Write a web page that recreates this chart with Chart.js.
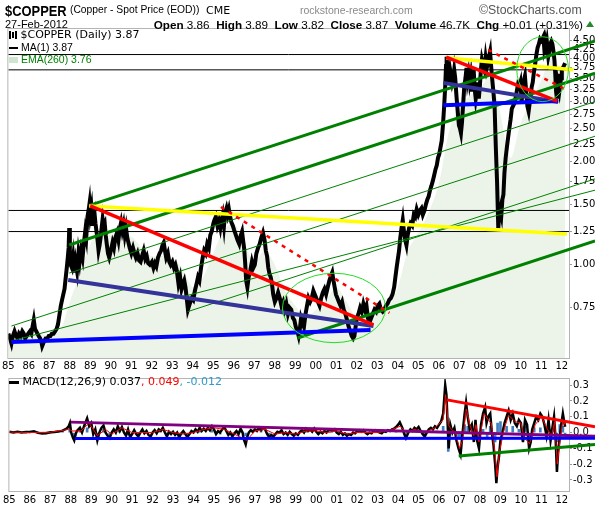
<!DOCTYPE html>
<html><head><meta charset="utf-8">
<script src="https://cdn.jsdelivr.net/npm/chart.js@4.4.1/dist/chart.umd.min.js"></script>
<style>
body{margin:0;width:595px;height:507px;background:#fff;position:relative;overflow:hidden;font-family:"Liberation Sans",Arial,sans-serif;}
.t{position:absolute;white-space:nowrap;line-height:1;}
#c1{position:absolute;left:0;top:0;}
#c2{position:absolute;left:0;top:372px;}
.ic{display:inline-block;vertical-align:middle;}
</style></head><body>
<canvas id="c1" width="595" height="372"></canvas>
<canvas id="c2" width="595" height="135"></canvas>
<div class="t" style="left:5px;top:2px;font:bold 15px 'Liberation Sans';transform:scaleX(0.86);transform-origin:left">$COPPER</div>
<div class="t" style="left:70px;top:4px;font:10.3px 'Liberation Sans'">(Copper - Spot Price (EOD))</div>
<div class="t" style="left:206px;top:4px;font:11px 'DejaVu Sans'">CME</div>
<div class="t" style="left:300px;top:4px;font:10.5px 'Liberation Sans';color:#8a8a8a">rockstone-research.com</div>
<div class="t" style="left:479px;top:3px;font:12.3px 'Liberation Sans';color:#555">©StockCharts.com</div>
<div class="t" style="left:5px;top:18px;font:11px 'Liberation Sans'">27-Feb-2012</div>
<div class="t" style="right:12px;top:18px;font:11.7px 'Liberation Sans'"><b>Open</b> 3.86 &nbsp;<b>High</b> 3.89 &nbsp;<b>Low</b> 3.82 &nbsp;<b>Close</b> 3.87 &nbsp;<b>Volume</b> 46.7K &nbsp;<b>Chg</b> +0.01 (+0.31%)</div>
<div class="t" style="left:586px;top:21px;width:0;height:0;border-left:4px solid transparent;border-right:4px solid transparent;border-bottom:6px solid #2a8a2a"></div>
<div class="t" style="left:9px;top:28px;font:11px 'DejaVu Sans'"><span class="ic" style="width:2px;height:8px;background:#000;margin-right:1px"></span><span class="ic" style="width:2px;height:6px;background:#000;margin-right:1px"></span><span class="ic" style="width:2px;height:8px;background:#000"></span> $COPPER (Daily) 3.87</div>
<div class="t" style="left:9px;top:41px;font:10.5px 'Liberation Sans'"><span class="ic" style="width:9px;height:2px;background:#000"></span> MA(1) 3.87</div>
<div class="t" style="left:9px;top:53px;font:10.5px 'Liberation Sans';color:#008000"><span class="ic" style="width:9px;height:6px;background:#cfe5cf"></span> EMA(260) 3.76</div>
<div class="t" style="left:9px;top:375px;font:11px 'DejaVu Sans'"><span class="ic" style="width:10px;height:3px;background:#000"></span> MACD(12,26,9) 0.037<span style="color:#ff0000">, 0.049</span><span style="color:#2e9ad0">, -0.012</span></div>
<script>
// ---------- DATA ----------
const yearLabels = ['85','86','87','88','89','90','91','92','93','94','95','96','97','98','99','00','01','02','03','04','05','06','07','08','09','10','11','12'];
const priceTickLabels = ['0.75','1.00','1.25','1.50','1.75','2.00','2.25','2.50','2.75','3.00','3.25','3.50','3.75','4.00','4.25','4.50'];
const macdTickLabels = ['-0.3','-0.2','-0.1','0.0','0.1','0.2','0.3'];

// daily close, sampled: [year, price]
const priceSeries = [
[1985.0,0.63],[1985.08,0.61],[1985.15,0.59],[1985.22,0.62],[1985.3,0.64],[1985.38,0.62],[1985.45,0.61],[1985.52,0.63],[1985.6,0.62],[1985.68,0.64],[1985.75,0.63],[1985.82,0.61],[1985.9,0.62],[1985.97,0.63],
[1986.05,0.64],[1986.12,0.63],[1986.18,0.66],[1986.24,0.69],[1986.3,0.65],[1986.36,0.64],[1986.42,0.63],[1986.48,0.62],[1986.55,0.61],[1986.6,0.60],[1986.65,0.58],[1986.7,0.59],[1986.75,0.60],[1986.82,0.61],[1986.9,0.61],[1986.97,0.62],
[1987.05,0.62],[1987.12,0.63],[1987.2,0.63],[1987.28,0.64],[1987.35,0.65],[1987.42,0.67],[1987.5,0.72],[1987.56,0.76],[1987.62,0.79],[1987.68,0.82],[1987.74,0.85],[1987.8,0.92],[1987.85,0.98],[1987.9,1.05],[1987.94,1.12],[1987.97,1.28],
[1988.0,1.08],[1988.04,1.00],[1988.1,0.98],[1988.16,1.05],[1988.22,0.95],[1988.28,1.02],[1988.35,0.96],[1988.42,1.08],[1988.48,1.02],[1988.55,1.10],[1988.62,1.05],[1988.68,1.15],[1988.75,1.25],[1988.8,1.20],[1988.86,1.38],[1988.92,1.45],[1988.96,1.51],
[1989.0,1.40],[1989.05,1.46],[1989.1,1.30],[1989.15,1.38],[1989.2,1.42],[1989.25,1.32],[1989.3,1.25],[1989.35,1.18],[1989.4,1.10],[1989.45,1.14],[1989.5,1.20],[1989.55,1.28],[1989.6,1.36],[1989.65,1.30],[1989.7,1.32],[1989.75,1.22],[1989.8,1.15],[1989.86,1.08],[1989.92,1.05],
[1990.0,1.10],[1990.08,1.16],[1990.15,1.12],[1990.22,1.20],[1990.3,1.24],[1990.37,1.18],[1990.44,1.28],[1990.5,1.33],[1990.56,1.26],[1990.62,1.31],[1990.68,1.22],[1990.74,1.28],[1990.8,1.20],[1990.86,1.16],[1990.92,1.12],
[1991.0,1.08],[1991.08,1.12],[1991.15,1.08],[1991.22,1.05],[1991.3,1.08],[1991.38,1.03],[1991.45,1.02],[1991.52,1.06],[1991.6,1.10],[1991.68,1.04],[1991.75,1.06],[1991.82,1.01],[1991.9,1.00],
[1992.0,1.02],[1992.08,0.98],[1992.15,1.01],[1992.22,0.99],[1992.3,1.05],[1992.38,1.08],[1992.45,1.10],[1992.52,1.14],[1992.58,1.16],[1992.64,1.10],[1992.7,1.05],[1992.78,1.08],[1992.85,1.02],[1992.92,1.00],
[1993.0,1.02],[1993.08,0.98],[1993.15,1.00],[1993.22,0.96],[1993.3,0.88],[1993.38,0.92],[1993.45,0.85],[1993.52,0.88],[1993.58,0.90],[1993.64,0.86],[1993.7,0.80],[1993.76,0.74],[1993.82,0.76],[1993.88,0.78],[1993.95,0.80],
[1994.02,0.79],[1994.1,0.84],[1994.18,0.88],[1994.25,0.92],[1994.32,0.90],[1994.4,0.98],[1994.48,1.05],[1994.55,1.10],[1994.62,1.08],[1994.7,1.15],[1994.78,1.12],[1994.85,1.22],[1994.92,1.25],
[1995.0,1.32],[1995.05,1.35],[1995.12,1.38],[1995.2,1.30],[1995.27,1.34],[1995.34,1.28],[1995.4,1.35],[1995.46,1.40],[1995.52,1.30],[1995.58,1.42],[1995.64,1.46],[1995.7,1.40],[1995.76,1.45],[1995.82,1.38],[1995.88,1.33],[1995.95,1.30],
[1996.02,1.26],[1996.1,1.22],[1996.18,1.18],[1996.26,1.15],[1996.34,1.22],[1996.4,1.25],[1996.45,1.18],[1996.5,1.12],[1996.55,1.02],[1996.6,0.90],[1996.66,0.86],[1996.72,0.92],[1996.8,0.96],[1996.88,1.02],[1996.95,0.98],
[1997.02,1.00],[1997.1,1.08],[1997.18,1.12],[1997.26,1.15],[1997.34,1.20],[1997.42,1.24],[1997.5,1.18],[1997.56,1.10],[1997.62,1.06],[1997.68,0.98],[1997.74,0.94],[1997.8,0.92],[1997.86,0.88],[1997.92,0.82],
[1998.0,0.78],[1998.08,0.80],[1998.16,0.83],[1998.24,0.80],[1998.32,0.76],[1998.4,0.78],[1998.48,0.74],[1998.56,0.77],[1998.64,0.72],[1998.72,0.75],[1998.8,0.74],[1998.88,0.70],[1998.95,0.69],
[1999.02,0.66],[1999.1,0.64],[1999.16,0.62],[1999.22,0.65],[1999.28,0.70],[1999.35,0.68],[1999.42,0.66],[1999.5,0.72],[1999.57,0.76],[1999.64,0.80],[1999.72,0.78],[1999.8,0.80],[1999.88,0.84],[1999.95,0.82],
[2000.02,0.80],[2000.1,0.78],[2000.18,0.76],[2000.26,0.80],[2000.34,0.83],[2000.42,0.85],[2000.5,0.82],[2000.58,0.86],[2000.66,0.90],[2000.74,0.93],[2000.8,0.95],[2000.86,0.90],[2000.92,0.86],[2000.98,0.82],
[2001.05,0.80],[2001.12,0.78],[2001.2,0.76],[2001.28,0.78],[2001.36,0.74],[2001.44,0.72],[2001.52,0.69],[2001.6,0.66],[2001.68,0.64],[2001.75,0.62],[2001.82,0.61],[2001.88,0.62],[2001.94,0.66],
[2002.0,0.70],[2002.08,0.72],[2002.16,0.75],[2002.24,0.73],[2002.32,0.77],[2002.4,0.74],[2002.47,0.76],[2002.54,0.70],[2002.62,0.68],[2002.7,0.70],[2002.78,0.72],[2002.86,0.74],[2002.94,0.73],
[2003.02,0.76],[2003.1,0.77],[2003.18,0.74],[2003.26,0.73],[2003.34,0.74],[2003.42,0.76],[2003.5,0.77],[2003.58,0.79],[2003.66,0.80],[2003.74,0.82],[2003.82,0.86],[2003.88,0.92],[2003.94,0.98],
[2004.0,1.04],[2004.06,1.10],[2004.12,1.20],[2004.18,1.28],[2004.24,1.35],[2004.3,1.25],[2004.36,1.18],[2004.42,1.14],[2004.48,1.22],[2004.55,1.28],[2004.62,1.32],[2004.7,1.30],[2004.78,1.40],[2004.85,1.38],[2004.92,1.45],
[2005.0,1.40],[2005.08,1.44],[2005.15,1.46],[2005.22,1.40],[2005.3,1.44],[2005.37,1.50],[2005.44,1.55],[2005.5,1.58],[2005.57,1.65],[2005.64,1.70],[2005.7,1.75],[2005.77,1.82],[2005.84,1.90],[2005.9,1.95],[2005.96,2.05],
[2006.02,2.10],[2006.08,2.20],[2006.14,2.30],[2006.2,2.55],[2006.26,2.90],[2006.31,3.30],[2006.35,3.80],[2006.38,4.04],[2006.42,3.70],[2006.46,3.35],[2006.5,3.50],[2006.55,3.70],[2006.6,3.55],[2006.65,3.40],[2006.7,3.50],[2006.75,3.70],[2006.8,3.50],[2006.86,3.10],[2006.92,2.80],[2006.98,2.55],
[2007.03,2.50],[2007.08,2.42],[2007.13,2.60],[2007.18,2.90],[2007.24,3.30],[2007.3,3.50],[2007.35,3.75],[2007.4,3.45],[2007.45,3.60],[2007.5,3.40],[2007.55,3.55],[2007.6,3.20],[2007.65,3.45],[2007.7,3.70],[2007.75,3.25],[2007.8,3.05],[2007.85,3.20],[2007.9,3.40],[2007.95,3.05],
[2008.0,3.30],[2008.05,3.70],[2008.1,3.95],[2008.16,3.80],[2008.22,3.70],[2008.28,4.00],[2008.34,3.75],[2008.4,3.90],[2008.45,4.05],[2008.5,4.18],[2008.55,3.80],[2008.6,3.50],[2008.66,3.20],[2008.72,2.90],[2008.78,2.20],[2008.84,1.75],[2008.9,1.28],[2008.95,1.40],
[2009.0,1.45],[2009.05,1.40],[2009.1,1.55],[2009.15,1.60],[2009.2,1.85],[2009.26,2.05],[2009.32,2.20],[2009.38,2.35],[2009.44,2.50],[2009.5,2.65],[2009.56,2.85],[2009.62,2.90],[2009.68,2.95],[2009.74,3.05],[2009.8,3.20],[2009.86,3.35],[2009.92,3.30],
[2009.98,3.40],[2010.04,3.00],[2010.1,3.25],[2010.15,3.45],[2010.2,3.55],[2010.26,3.20],[2010.32,2.90],[2010.38,2.80],[2010.43,2.95],[2010.48,3.10],[2010.53,3.30],[2010.58,3.40],[2010.64,3.65],[2010.7,3.85],[2010.76,4.10],[2010.82,4.30],[2010.88,4.40],[2010.94,4.55],
[2011.0,4.50],[2011.05,4.55],[2011.1,4.62],[2011.14,4.30],[2011.19,4.45],[2011.24,4.10],[2011.29,4.35],[2011.34,4.05],[2011.39,4.20],[2011.44,4.40],[2011.49,4.48],[2011.54,4.40],[2011.59,4.20],[2011.64,3.95],[2011.68,3.60],[2011.72,3.20],[2011.76,3.05],[2011.8,3.40],[2011.84,3.30],[2011.88,3.60],[2011.92,3.35],[2011.96,3.50],
[2012.0,3.70],[2012.05,3.75],[2012.1,3.80],[2012.16,3.87]
];

// EMA(260) estimate: [year, value]
const emaSeries = [[1985.0,0.63],[1985.5,0.62],[1986.0,0.62],[1986.5,0.63],[1987.0,0.62],[1987.5,0.64],[1988.0,0.78],[1988.5,0.95],[1989.0,1.15],[1989.5,1.26],[1990.0,1.22],[1990.5,1.22],[1991.0,1.21],[1991.5,1.12],[1992.0,1.06],[1992.5,1.06],[1993.0,1.05],[1993.5,0.97],[1994.0,0.86],[1994.5,0.92],[1995.0,1.08],[1995.5,1.26],[1996.0,1.32],[1996.5,1.16],[1997.0,1.02],[1997.5,1.10],[1998.0,1.00],[1998.5,0.84],[1999.0,0.76],[1999.5,0.70],[2000.0,0.74],[2000.5,0.79],[2001.0,0.86],[2001.5,0.78],[2002.0,0.70],[2002.5,0.72],[2003.0,0.73],[2003.5,0.75],[2004.0,0.86],[2004.5,1.10],[2005.0,1.24],[2005.5,1.42],[2006.0,1.72],[2006.5,2.45],[2007.0,2.92],[2007.5,3.10],[2008.0,3.25],[2008.5,3.55],[2008.9,2.95],[2009.5,2.05],[2010.0,2.60],[2010.5,3.00],[2011.0,3.45],[2011.5,4.05],[2012.0,3.70],[2012.16,3.76]];

// horizontal reference levels
const levels = [4.10, 3.70, 1.44, 1.25];

// trend lines: [startYear, startPrice, endYear, endPrice]
const greenThick = [[1988.95,1.49,2013.62,4.49],[1987.97,1.142,2013.62,3.62],[1999.11,0.612,2013.62,1.173]];
const greenThin = [[1985.15,0.663,2013.62,2.37],[1987.97,0.946,2013.62,2.99],[1993.74,0.73,2013.62,1.78],[1985.15,0.60,2013.62,1.65]];
const redSolid = [[1988.99,1.484,2002.81,0.668],[2006.36,4.03,2011.77,3.00]];
const redDashed = [[1995.37,1.474,2003.59,0.724],[2008.41,4.23,2012.25,3.23]];
const navyLines = [[1987.92,0.903,2002.81,0.663],[2006.22,3.39,2011.82,2.98]];
const blueLines = [[1985.15,0.596,2002.67,0.646],[2006.22,2.92,2011.82,3.00]];
const yellowLines = [[1988.94,1.484,2012.25,1.23],[2006.36,4.01,2012.55,3.70]];
// ellipses: [leftYear, rightYear, topPrice, bottomPrice]
const circles = [[1998.37,2003.40,0.945,0.593],[2009.80,2012.32,4.62,2.99]];

// MACD panel: [year, value]
const macdSeries = [[1985.0,0.005],[1985.2,0.0],[1985.4,0.005],[1985.6,0.0],[1985.8,0.004],[1986.0,0.003],[1986.2,0.008],[1986.4,-0.002],[1986.6,-0.006],[1986.8,-0.004],[1987.0,0.002],[1987.2,0.003],[1987.4,0.006],[1987.6,0.012],[1987.8,0.025],[1987.9,0.04],[1987.96,0.06],[1988.02,0.0],[1988.1,-0.03],[1988.17,-0.05],[1988.24,-0.01],[1988.3,0.01],[1988.45,0.03],[1988.55,0.0],[1988.65,0.04],[1988.8,0.09],[1988.9,0.04],[1989.0,0.06],[1989.1,-0.01],[1989.2,0.02],[1989.3,-0.05],[1989.4,0.0],[1989.5,0.03],[1989.6,0.045],[1989.7,0.0],[1989.8,-0.02],[1989.9,-0.035],[1990.0,0.0],[1990.1,0.02],[1990.2,0.0],[1990.3,0.04],[1990.4,0.01],[1990.5,0.035],[1990.6,0.0],[1990.7,-0.02],[1990.8,0.02],[1990.9,-0.03],[1991.0,-0.01],[1991.1,0.015],[1991.2,-0.01],[1991.3,-0.025],[1991.4,0.0],[1991.5,0.02],[1991.6,-0.005],[1991.7,0.01],[1991.8,-0.015],[1991.9,-0.025],[1992.0,0.0],[1992.1,0.015],[1992.2,-0.005],[1992.3,0.02],[1992.4,0.01],[1992.5,0.03],[1992.6,0.0],[1992.7,-0.025],[1992.8,0.005],[1992.9,-0.01],[1993.0,0.005],[1993.1,-0.015],[1993.2,0.0],[1993.3,-0.03],[1993.4,-0.005],[1993.5,0.01],[1993.6,-0.01],[1993.7,-0.03],[1993.8,-0.01],[1993.9,0.01],[1994.0,0.0],[1994.1,0.02],[1994.2,0.005],[1994.3,0.03],[1994.4,0.01],[1994.5,0.025],[1994.6,0.01],[1994.7,0.03],[1994.8,0.015],[1994.9,0.04],[1995.0,0.02],[1995.1,-0.01],[1995.2,0.01],[1995.3,0.0],[1995.4,0.02],[1995.5,0.035],[1995.6,0.01],[1995.7,-0.015],[1995.8,0.0],[1995.9,-0.025],[1996.0,-0.005],[1996.1,0.01],[1996.2,-0.01],[1996.3,0.025],[1996.4,0.0],[1996.45,-0.04],[1996.55,-0.075],[1996.62,-0.03],[1996.7,0.0],[1996.8,0.015],[1996.9,0.005],[1997.0,0.02],[1997.1,0.01],[1997.2,0.03],[1997.3,0.015],[1997.4,0.03],[1997.5,0.02],[1997.6,-0.01],[1997.7,-0.03],[1997.8,-0.015],[1997.9,-0.025],[1998.0,-0.01],[1998.1,0.005],[1998.2,0.0],[1998.3,0.015],[1998.4,-0.01],[1998.5,0.0],[1998.6,-0.015],[1998.7,0.005],[1998.8,-0.01],[1998.9,-0.02],[1999.0,-0.005],[1999.1,-0.015],[1999.2,0.005],[1999.3,0.015],[1999.4,0.0],[1999.5,0.025],[1999.6,0.01],[1999.7,0.02],[1999.8,0.005],[1999.9,0.025],[2000.0,0.005],[2000.1,-0.01],[2000.2,0.005],[2000.3,-0.005],[2000.4,0.01],[2000.5,0.0],[2000.6,0.015],[2000.7,0.02],[2000.8,0.01],[2000.9,0.02],[2001.0,0.0],[2001.1,-0.01],[2001.2,0.005],[2001.3,-0.015],[2001.4,-0.005],[2001.5,-0.02],[2001.6,-0.01],[2001.7,-0.015],[2001.8,0.0],[2001.9,-0.005],[2002.0,0.01],[2002.1,0.015],[2002.2,0.005],[2002.3,0.015],[2002.4,0.0],[2002.5,-0.01],[2002.6,0.0],[2002.7,-0.005],[2002.8,0.01],[2002.9,0.015],[2003.0,0.005],[2003.1,0.0],[2003.2,-0.005],[2003.3,0.01],[2003.4,0.005],[2003.5,0.015],[2003.6,0.01],[2003.7,0.02],[2003.8,0.025],[2003.9,0.035],[2004.0,0.05],[2004.08,0.065],[2004.2,0.03],[2004.3,-0.01],[2004.38,-0.035],[2004.5,0.0],[2004.6,0.02],[2004.7,0.01],[2004.8,0.03],[2004.9,0.02],[2005.0,0.035],[2005.1,0.01],[2005.2,-0.01],[2005.3,-0.025],[2005.4,0.0],[2005.5,0.02],[2005.6,0.03],[2005.7,0.02],[2005.8,0.04],[2005.9,0.03],[2006.0,0.05],[2006.1,0.07],[2006.2,0.12],[2006.3,0.30],[2006.36,0.24],[2006.42,0.05],[2006.47,-0.10],[2006.55,0.05],[2006.65,0.0],[2006.75,0.03],[2006.85,-0.05],[2006.95,-0.10],[2007.05,-0.14],[2007.15,0.0],[2007.25,0.12],[2007.32,0.19],[2007.4,0.10],[2007.5,0.02],[2007.6,0.05],[2007.7,-0.06],[2007.78,0.08],[2007.86,-0.05],[2007.95,-0.10],[2008.05,0.05],[2008.15,0.12],[2008.25,0.16],[2008.32,0.06],[2008.4,0.10],[2008.5,0.12],[2008.58,0.0],[2008.66,-0.08],[2008.74,-0.20],[2008.8,-0.32],[2008.86,-0.22],[2008.93,-0.15],[2009.0,-0.05],[2009.1,0.0],[2009.2,0.06],[2009.3,0.10],[2009.4,0.14],[2009.5,0.08],[2009.6,0.12],[2009.7,0.06],[2009.8,0.04],[2009.9,0.08],[2010.0,0.06],[2010.1,-0.06],[2010.2,0.08],[2010.3,0.05],[2010.4,-0.10],[2010.48,-0.06],[2010.55,0.02],[2010.65,0.06],[2010.75,0.10],[2010.85,0.08],[2010.95,0.12],[2011.05,0.10],[2011.15,0.05],[2011.25,-0.02],[2011.35,0.08],[2011.45,-0.05],[2011.55,0.04],[2011.62,0.10],[2011.7,-0.05],[2011.76,-0.25],[2011.82,-0.12],[2011.9,-0.03],[2011.97,0.05],[2012.05,0.12],[2012.1,0.08],[2012.16,0.037]];
const signalSeries = [[1985.0,0.003],[1986.0,0.0],[1987.0,0.002],[1987.9,0.02],[1988.1,0.01],[1988.5,0.01],[1988.9,0.06],[1989.3,-0.02],[1989.7,0.02],[1990.0,-0.01],[1990.5,0.03],[1991.0,0.0],[1991.5,0.0],[1992.0,0.0],[1992.5,0.02],[1993.0,0.0],[1993.5,-0.01],[1994.0,0.0],[1994.5,0.02],[1995.0,0.03],[1995.5,0.02],[1996.0,-0.01],[1996.6,-0.05],[1997.0,0.01],[1997.5,0.02],[1998.0,-0.01],[1998.5,0.0],[1999.0,-0.01],[1999.5,0.01],[2000.0,0.01],[2000.5,0.0],[2001.0,0.01],[2001.5,-0.01],[2002.0,0.0],[2002.5,0.0],[2003.0,0.0],[2003.5,0.01],[2004.1,0.04],[2004.4,0.0],[2004.8,0.02],[2005.3,0.0],[2005.8,0.03],[2006.2,0.08],[2006.32,0.24],[2006.45,0.05],[2006.6,0.02],[2006.8,0.0],[2007.0,-0.10],[2007.15,-0.05],[2007.33,0.15],[2007.5,0.05],[2007.7,-0.02],[2007.8,0.05],[2007.95,-0.06],[2008.2,0.12],[2008.4,0.08],[2008.55,0.06],[2008.75,-0.15],[2008.83,-0.28],[2008.95,-0.12],[2009.2,0.03],[2009.4,0.11],[2009.7,0.07],[2010.0,0.06],[2010.15,-0.03],[2010.42,-0.07],[2010.7,0.05],[2011.0,0.10],[2011.3,0.02],[2011.5,-0.02],[2011.65,0.07],[2011.78,-0.20],[2011.9,-0.06],[2012.05,0.08],[2012.16,0.049]];
const histSeries = [[1985.2,0.003],[1985.8,-0.003],[1986.4,0.004],[1987.0,-0.002],[1987.6,0.006],[1987.95,0.03],[1988.15,-0.04],[1988.45,0.02],[1988.8,0.03],[1989.3,-0.03],[1989.6,0.02],[1989.9,-0.02],[1990.35,0.015],[1990.8,-0.015],[1991.3,-0.015],[1991.7,0.01],[1992.3,0.01],[1992.7,-0.02],[1993.3,-0.02],[1993.7,-0.015],[1994.3,0.01],[1994.9,0.015],[1995.3,-0.01],[1995.9,-0.015],[1996.3,0.015],[1996.55,-0.02],[1996.9,0.015],[1997.3,0.01],[1997.7,-0.02],[1998.3,0.01],[1998.9,-0.01],[1999.5,0.01],[2000.1,-0.01],[2000.7,0.01],[2001.5,-0.01],[2002.1,0.01],[2002.5,-0.008],[2003.3,0.006],[2003.9,0.012],[2004.35,-0.025],[2004.9,0.01],[2005.3,-0.02],[2005.9,0.01],[2006.2,0.04],[2006.45,-0.12],[2006.55,0.03],[2006.95,-0.03],[2007.05,-0.04],[2007.25,0.05],[2007.4,0.04],[2007.7,-0.04],[2007.78,0.03],[2007.95,-0.04],[2008.15,0.02],[2008.35,-0.03],[2008.5,0.04],[2008.66,-0.06],[2008.74,-0.06],[2008.86,0.06],[2009.0,0.07],[2009.3,0.04],[2009.6,0.04],[2009.9,0.02],[2010.1,-0.05],[2010.2,0.04],[2010.4,-0.04],[2010.65,0.03],[2010.95,0.03],[2011.25,-0.04],[2011.45,-0.04],[2011.62,0.03],[2011.76,-0.06],[2011.9,0.05],[2012.05,0.04],[2012.16,-0.012]];
const macdPurple = [1988.0,0.066,2013.62,-0.024];
const macdBlue = [1988.2,-0.038,2013.62,-0.036];
const macdRed = [2006.39,0.207,2013.62,0.036];
const macdGreen = [2006.96,-0.149,2013.62,-0.075];

// ---------- BUILD ----------
const X_MIN = 1985.0, X_MAX = 2012.35;
const pts = arr => arr.map(p => ({x: p[0], y: p[1]}));
const seg = s => [{x: s[0], y: s[1]}, {x: s[2], y: s[3]}];
const ext = {left: 0, top: 0, right: 30, bottom: 0};
function lineDs(s, color, width, order, dash) {
  return {type: 'line', data: seg(s), borderColor: color, borderWidth: width, pointRadius: 0,
          borderDash: dash || [], order, clip: ext, tension: 0};
}
const yearTicks = yearLabels.map((l, i) => 1985 + i);

const boxPlugin = {
  id: 'box',
  beforeDatasetsDraw(chart) {
    const {ctx, chartArea: a} = chart;
    ctx.save(); ctx.strokeStyle = '#b4b4b4'; ctx.lineWidth = 1;
    ctx.strokeRect(a.left - 0.5, a.top - 0.5, a.right - a.left + 1, a.bottom - a.top + 1);
    ctx.restore();
  }
};
const ellipsePlugin = {
  id: 'ellipses',
  afterDatasetsDraw(chart) {
    if (!chart.options.plugins.ellipses) return;
    const {ctx} = chart; const xs = chart.scales.x, ys = chart.scales.y;
    ctx.save(); ctx.strokeStyle = '#22dd22'; ctx.lineWidth = 1;
    circles.forEach(c => {
      const x1 = xs.getPixelForValue(c[0]), x2 = xs.getPixelForValue(c[1]);
      const y1 = ys.getPixelForValue(c[2]), y2 = ys.getPixelForValue(c[3]);
      ctx.beginPath();
      ctx.ellipse((x1 + x2) / 2, (y1 + y2) / 2, (x2 - x1) / 2, (y2 - y1) / 2, 0, 0, Math.PI * 2);
      ctx.stroke();
    });
    ctx.restore();
  }
};

const datasets = [];
datasets.push({type: 'line', data: pts(emaSeries), borderWidth: 0, pointRadius: 0,
  backgroundColor: 'rgb(236,244,234)', fill: 'start', order: 100, tension: 0.3});
levels.forEach(v => datasets.push(lineDs([X_MIN, v, X_MAX, v], '#000', 1, 90)));
datasets.push({type: 'line', data: pts(priceSeries), borderColor: '#000', borderWidth: 4,
  pointRadius: 0, order: 50, tension: 0, borderJoinStyle: 'miter'});
greenThin.forEach(s => datasets.push(lineDs(s, '#008000', 1, 20)));
greenThick.forEach(s => datasets.push(lineDs(s, '#008000', 3, 19)));
yellowLines.forEach(s => datasets.push(lineDs(s, '#ffff00', 3.5, 18)));
navyLines.forEach(s => datasets.push(lineDs(s, '#333399', 4, 17)));
blueLines.forEach(s => datasets.push(lineDs(s, '#0000ff', 4, 16)));
redSolid.forEach(s => datasets.push(lineDs(s, '#ff0000', 3.5, 15)));
redDashed.forEach(s => datasets.push(lineDs(s, '#ff0000', 2.5, 14, [4, 5])));

const tickFont = {family: 'DejaVu Sans', size: 10};
new Chart(document.getElementById('c1'), {
  type: 'line',
  data: {datasets},
  options: {
    responsive: false, animation: false, events: [],
    layout: {padding: {top: 29, left: 7, right: 0, bottom: 0}},
    plugins: {legend: {display: false}, tooltip: {enabled: false}, ellipses: true},
    scales: {
      x: {type: 'linear', min: X_MIN, max: X_MAX,
        afterBuildTicks: s => { s.ticks = yearTicks.map(v => ({value: v})); },
        afterFit: s => { s.height = 14; },
        ticks: {callback: (v) => yearLabels[yearTicks.indexOf(v)], font: tickFont, color: '#000', padding: 2, maxRotation: 0, autoSkip: false},
        grid: {display: false, drawTicks: false}, border: {display: false}},
      y: {type: 'logarithmic', position: 'right', min: 0.535, max: 4.867,
        afterBuildTicks: s => { s.ticks = priceTickLabels.map(l => ({value: parseFloat(l)})); },
        afterFit: s => { s.width = 26; },
        ticks: {callback: (v) => priceTickLabels.find(l => parseFloat(l) === v), font: tickFont, color: '#000', padding: 1, autoSkip: false},
        grid: {drawOnChartArea: false, tickLength: 3, color: '#999'}, border: {display: false}}
    }
  },
  plugins: [boxPlugin, ellipsePlugin]
});

const mds = [];
mds.push(lineDs(macdPurple, '#800080', 3, 5));
mds.push(lineDs(macdBlue, '#0000ff', 3, 4));
mds.push(lineDs(macdRed, '#ff0000', 3, 3));
mds.push(lineDs(macdGreen, '#008000', 3, 2));
mds.push({type: 'bar', data: pts(histSeries), backgroundColor: '#3f7fbf', barThickness: 2, order: 30});
mds.push({type: 'line', data: pts(macdSeries), borderColor: '#000', borderWidth: 2.5, pointRadius: 0, order: 20, tension: 0});
mds.push({type: 'line', data: pts(signalSeries), borderColor: '#ff0000', borderWidth: 1, pointRadius: 0, order: 10, tension: 0});

new Chart(document.getElementById('c2'), {
  type: 'line',
  data: {datasets: mds},
  options: {
    responsive: false, animation: false, events: [],
    layout: {padding: {top: 3, left: 7, right: 0, bottom: 0}},
    plugins: {legend: {display: false}, tooltip: {enabled: false}},
    scales: {
      x: {type: 'linear', min: X_MIN, max: X_MAX, offset: false,
        afterBuildTicks: s => { s.ticks = yearTicks.map(v => ({value: v})); },
        afterFit: s => { s.height = 16; },
        ticks: {callback: (v) => yearLabels[yearTicks.indexOf(v)], font: tickFont, color: '#000', padding: 3, maxRotation: 0, autoSkip: false},
        grid: {display: false, drawTicks: false, offset: false}, border: {display: false}},
      y: {type: 'linear', position: 'right', min: -0.37, max: 0.339,
        afterBuildTicks: s => { s.ticks = macdTickLabels.map(l => ({value: parseFloat(l)})); },
        afterFit: s => { s.width = 26; },
        ticks: {callback: (v) => macdTickLabels.find(l => Math.abs(parseFloat(l) - v) < 1e-9), font: tickFont, color: '#000', padding: 1, autoSkip: false},
        grid: {drawOnChartArea: false, tickLength: 3, color: '#999'}, border: {display: false}}
    }
  },
  plugins: [boxPlugin]
});
</script>
</body></html>
